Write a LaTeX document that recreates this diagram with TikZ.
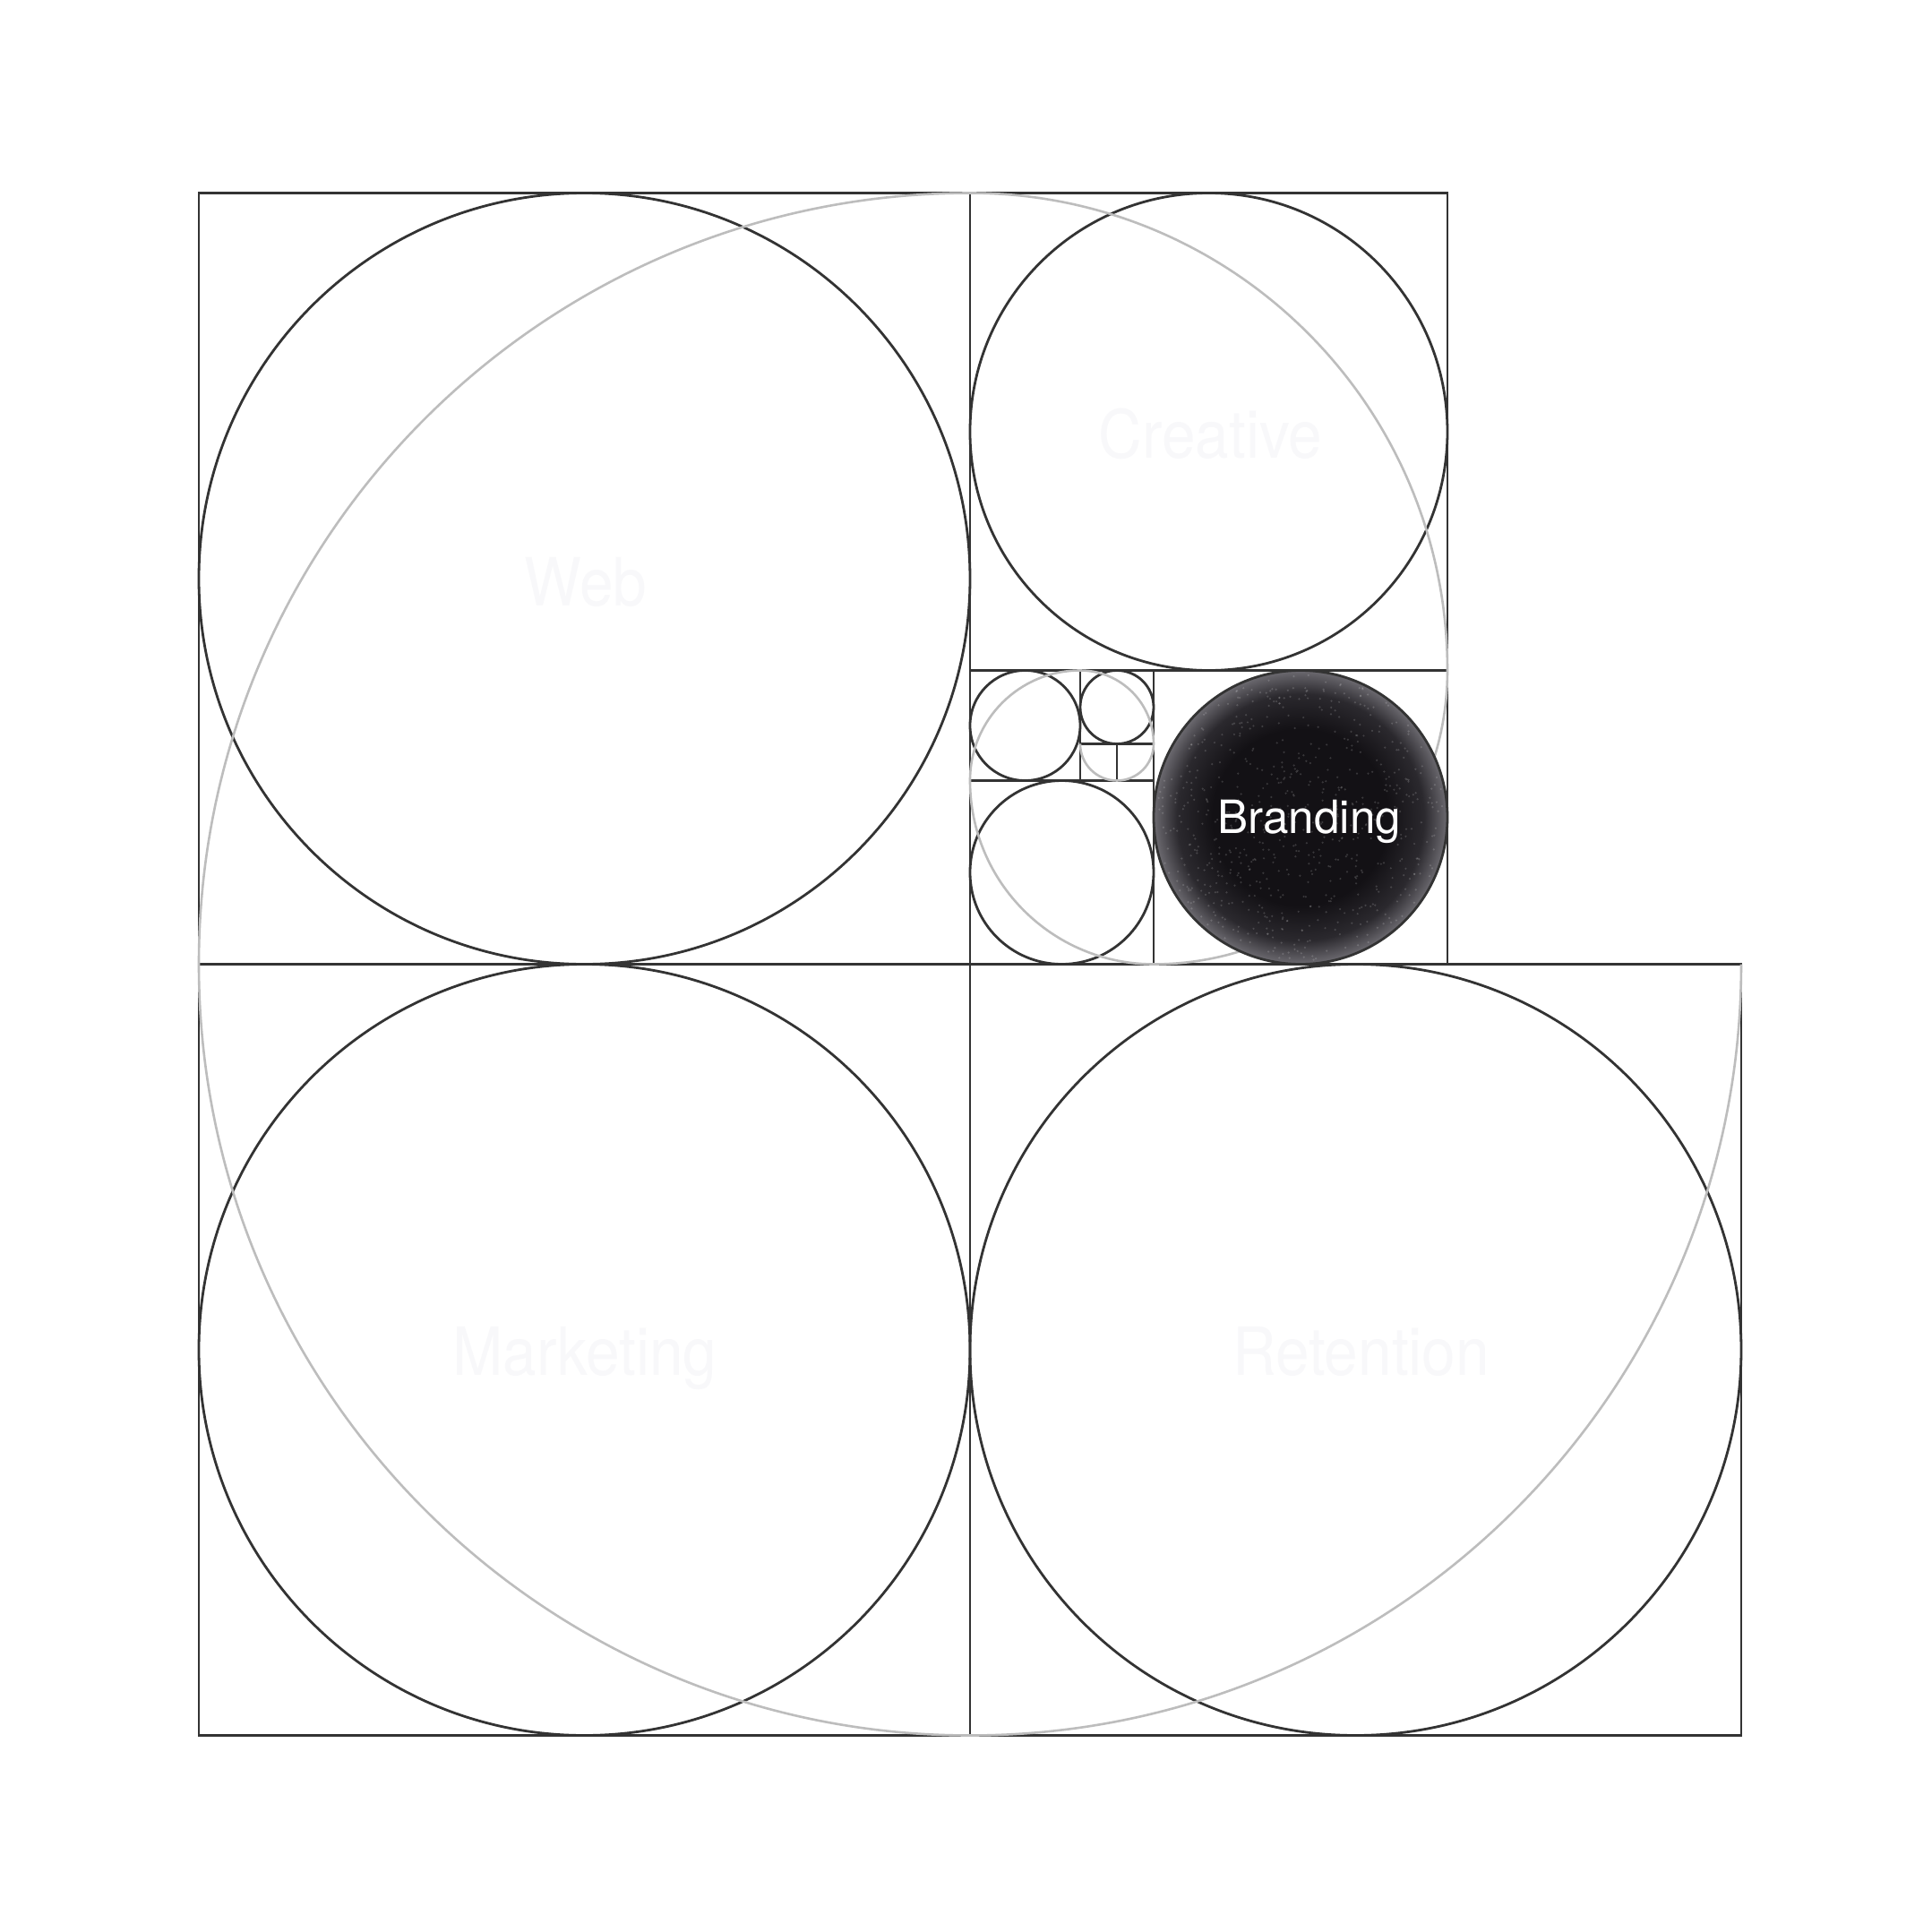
\documentclass[tikz,border=0pt]{standalone}
\usepackage{fontspec}
\usepackage{graphicx}
\newfontfamily\labelfont{TeX Gyre Heros}
\definecolor{ink}{HTML}{333333}
\definecolor{spiral}{HTML}{BDBDBD}
\definecolor{ghost}{HTML}{F8F8FA}
\definecolor{diskc}{HTML}{131115}
\definecolor{diskm}{HTML}{2B292E}
\definecolor{diske}{HTML}{6C6A70}
\pgfdeclareradialshading{brandshade}{\pgfpoint{0bp}{0bp}}{color(0bp)=(diskc); color(15bp)=(diskc); color(21bp)=(diskm); color(25bp)=(diske); color(50bp)=(diske)}
\tikzset{
  frame/.style={draw=ink, line width=0.7pt},
  spiralline/.style={draw=spiral, line width=0.65pt},
  ghostlabel/.style={text=ghost, font=\labelfont\fontsize{18.56pt}{22pt}\selectfont, anchor=base, inner sep=0pt},
  brandlabel/.style={text=white, font=\labelfont\fontsize{12.8pt}{15pt}\selectfont, anchor=base, inner sep=0pt},
  speck/.style={fill=white, fill opacity=0.16}
}
\begin{document}
\begin{tikzpicture}[x=10.25pt,y=-10.25pt]
\fill[white] (-5.4146,-5.2561) rectangle (47.195,47.354);
\useasboundingbox (-5.4146,-5.2561) rectangle (47.195,47.354);
% squares
\draw[frame] (0,0) rectangle (34,21);
\draw[frame] (0,21) rectangle (42,42);
\draw[frame] (21,0) -- (21,42);
\draw[frame] (21,13) -- (34,13);
\draw[frame] (26,13) -- (26,21);
\draw[frame] (21,16) -- (26,16);
\draw[frame] (24,13) -- (24,16);
\draw[frame] (24,15) -- (26,15);
\draw[frame] (25,15) -- (25,16);
% inscribed circles
\draw[frame] (10.5,10.5) circle[radius=10.5];
\draw[frame] (10.5,31.5) circle[radius=10.5];
\draw[frame] (31.5,31.5) circle[radius=10.5];
\draw[frame] (27.5,6.5) circle[radius=6.5];
\draw[frame] (23.5,18.5) circle[radius=2.5];
\draw[frame] (22.5,14.5) circle[radius=1.5];
\draw[frame] (25,14) circle[radius=1];
% golden spiral
\draw[spiralline] (42,21) arc[start angle=0, end angle=270, radius=21]
  arc[start angle=270, end angle=360, radius=13]
  arc[start angle=0, end angle=90, radius=8]
  arc[start angle=90, end angle=180, radius=5]
  arc[start angle=180, end angle=270, radius=3]
  arc[start angle=270, end angle=360, radius=2]
  arc[start angle=0, end angle=180, radius=1];
% branding disk
\shade[shading=brandshade] (30,17) circle[radius=4];
\pgfmathsetseed{42}
\foreach \k in {1,...,700}{
  \pgfmathsetmacro{\rr}{3.9*sqrt(rnd)}
  \pgfmathsetmacro{\aa}{360*rnd}
  \fill[speck, shift={(30,17)}] (\aa:\rr) circle[radius=0.03];
}
\draw[frame] (30,17) circle[radius=4];
% labels
\node[ghostlabel] (web) at (10.537,11.232) {\scalebox{0.91}[1]{Web}};
\node[ghostlabel] (creative) at (27.546,7.222) {\scalebox{0.91}[1]{Creative}};
\node[ghostlabel] (marketing) at (10.512,32.183) {\scalebox{0.91}[1]{Marketing}};
\node[ghostlabel] (retention) at (31.646,32.183) {\scalebox{0.91}[1]{Retention}};
\node[brandlabel] (branding) at (30.237,17.430) {Branding};
\end{tikzpicture}
\end{document}
